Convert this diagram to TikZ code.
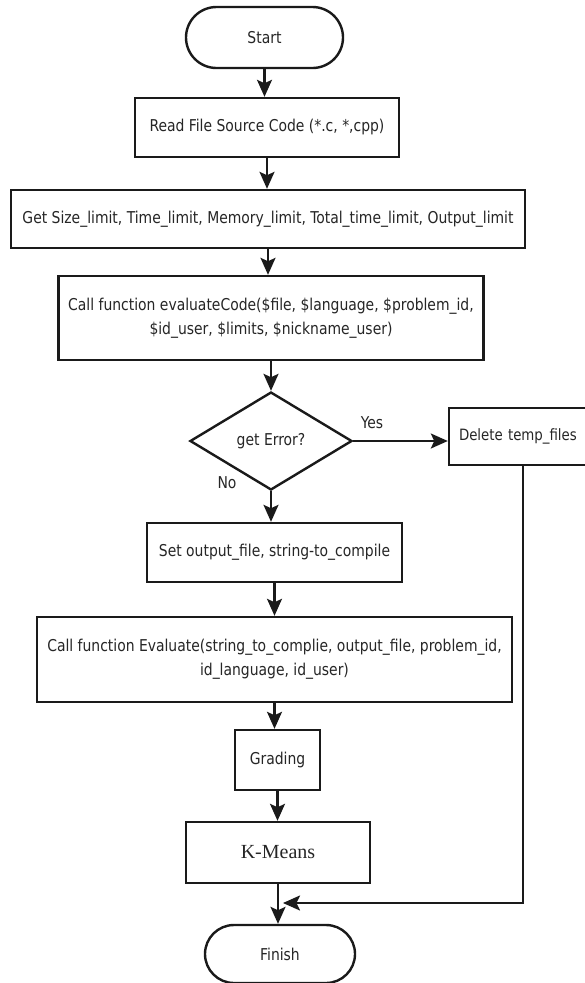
\documentclass[tikz,border=0pt]{standalone}
\usepackage{fontspec}
\setmainfont{DejaVu Sans Condensed}[FakeStretch=0.95]
\newfontfamily\kmfont{Liberation Serif}
\usetikzlibrary{shapes.geometric,shapes.misc,arrows.meta}
\definecolor{ink}{HTML}{1A1A1A}
\definecolor{txt}{HTML}{262626}
\tikzset{
  box/.style={draw=ink, line width=2.4pt, inner sep=0pt, text=txt, align=center,
              font=\fontsize{16.3}{24}\selectfont},
  term/.style={box, rounded rectangle},
  dec/.style={box, diamond},
  arr/.style={draw=ink, line width=2.2pt, -{Stealth[length=17pt,width=15pt,inset=3.5pt]}},
  lbl/.style={text=txt, font=\fontsize{16.3}{18}\selectfont, inner sep=0pt}
}
\begin{document}
\begin{tikzpicture}[x=1pt,y=-1pt]
\useasboundingbox (0,0) rectangle (584,983);
\fill[white] (0,0) rectangle (584,983);
\node[term, minimum width=157pt, minimum height=61pt] (start) at (264.5,37.5) {Start};
\node[box, minimum width=264pt, minimum height=59pt] (read) at (267,127.5) {Read File Source Code (*.c, *,cpp)};
\node[box, minimum width=514pt, minimum height=58pt] (get) at (268,219) {Get Size\_limit, Time\_limit, Memory\_limit, Total\_time\_limit, Output\_limit};
\node[box, minimum width=425pt, minimum height=84pt] (call) at (271,318) {Call function evaluateCode(\$file, \$language, \$problem\_id,\\ \$id\_user, \$limits, \$nickname\_user)};
\node[dec, minimum width=162pt, minimum height=98pt] (dia) at (271,441) {get Error?};
\node[box, minimum height=57pt, text width=166pt, inner xsep=10pt, align=left, font=\fontsize{15.6}{18}\selectfont] (del) at (542,436.5) {Delete temp\_files};
\node[box, minimum width=255pt, minimum height=59pt] (set) at (274.5,552.5) {Set output\_file, string-to\_compile};
\node[box, minimum width=475pt, minimum height=85pt] (eval) at (274.5,659.5) {Call function Evaluate(string\_to\_complie, output\_file, problem\_id,\\ id\_language, id\_user)};
\node[box, minimum width=85pt, minimum height=60pt] (grad) at (277.5,760) {Grading};
\node[box, minimum width=184.5pt, minimum height=61pt, font=\kmfont\fontsize{20}{24}\selectfont] (km) at (278,852.5) {K-Means};
\node[term, minimum width=150pt, minimum height=58pt] (fin) at (280,954) {Finish};
\node[lbl] (yes) at (372,423) {Yes};
\node[lbl] (no) at (227,483) {No};
\coordinate (dx) at (523,0);
\coordinate (j) at (283,903);
\draw[arr] (start.south) -- (start.south |- read.north);
\draw[arr] (read.south) -- (read.south |- get.north);
\draw[arr] (get.south) -- (get.south |- call.north);
\draw[arr] (call.south) -- (call.south |- dia.north);
\draw[arr] (dia.east) -- (dia.east -| del.west);
\draw[arr] (dia.south) -- (dia.south |- set.north);
\draw[arr] (set.south) -- (set.south |- eval.north);
\draw[arr] (eval.south) -- (eval.south |- grad.north);
\draw[arr] (grad.south) -- (grad.south |- km.north);
\draw[arr] (km.south) -- (km.south |- fin.north);
\draw[arr] (del.south -| dx) |- (j);
\end{tikzpicture}
\end{document}
